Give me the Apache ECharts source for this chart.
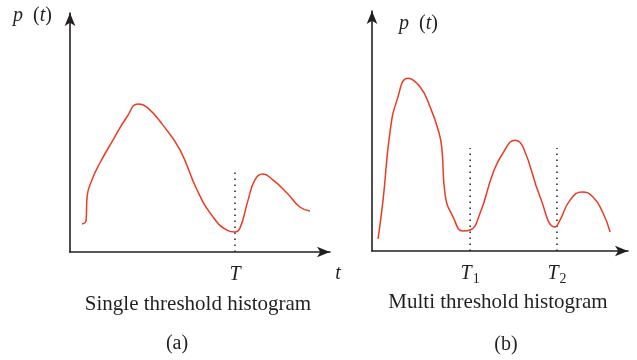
<!DOCTYPE html>
<html><head><meta charset="utf-8">
<script src="https://cdn.jsdelivr.net/npm/echarts@6/dist/echarts.min.js"></script>
<style>html,body{margin:0;padding:0;background:#fff}#c{width:637px;height:360px}</style>
</head><body><div id="c"></div>
<script>
// Panel (a): single threshold
const tA = [4.5, 6.0, 6.4, 8.2, 11.2, 16.1, 21.3, 25.5, 28.8, 34.8, 41.2, 47.6, 53.6, 58.8, 61.8, 63.7, 66.7, 69.3, 72.3, 76.0, 81.3, 86.1, 89.9];
const pA = [11.4, 12.6, 22.4, 29.3, 36.2, 45.5, 54.9, 60.2, 58.9, 51.6, 41.5, 25.2, 14.2, 8.9, 8.1, 9.8, 21.1, 29.3, 31.7, 29.3, 24.0, 18.3, 16.7];
const thresholdsA = [61.8];
const thresholdLabelsA = ['T'];
// Panel (b): multi threshold
const tB = [2.3, 4.2, 6.8, 9.5, 13.7, 18.3, 22.1, 25.5, 26.6, 27.8, 30.8, 34.6, 37.3, 41.1, 46.0, 49.8, 54.4, 57.4, 63.9, 69.6, 71.5, 75.3, 79.8, 84.0, 87.8, 90.5];
const pB = [4.9, 20.6, 47.8, 61.1, 70.0, 66.4, 58.3, 47.8, 40.9, 22.7, 13.8, 8.1, 8.5, 15.4, 31.6, 39.7, 44.9, 42.1, 21.9, 9.7, 12.6, 20.6, 23.9, 21.9, 15.4, 7.7];
const thresholdsB = [37.3, 70.3];
const thresholdLabelsB = ['T1', 'T2'];
const thresholdTopA = 33.3;
const thresholdTopB = 41.7;
const titles = ['Single threshold histogram', 'Multi threshold histogram'];
const panelTags = ['(a)', '(b)'];

const ink = '#231f20';
const red = '#ee3a24';
const serif = '"Liberation Serif", "DejaVu Serif", serif';

function zip(xs, ys) { return xs.map((x, i) => [x, ys[i]]); }
function axisLineCfg() {
  return { show: true, symbol: ['none', 'arrow'], symbolSize: [8, 13], lineStyle: { color: ink, width: 1.6 } };
}
function xAxisCfg(idx, max, vals, labels) {
  return {
    type: 'value', gridIndex: idx, min: 0, max: max,
    axisLine: axisLineCfg(), axisTick: { show: false }, splitLine: { show: false },
    axisLabel: {
      show: true, customValues: vals, margin: 12,
      formatter: v => {
        const l = labels[vals.indexOf(v)] || '';
        return l.length > 1 ? '{i|' + l[0] + '}{s|' + l.slice(1) + '}' : '{i|' + l + '}';
      },
      rich: {
        i: { fontFamily: serif, fontStyle: 'italic', fontSize: 20, color: ink, lineHeight: 22 },
        s: { fontFamily: serif, fontSize: 14, color: ink, lineHeight: 22, padding: [10, 0, 0, 1] }
      }
    }
  };
}
function yAxisCfg(idx, max) {
  return {
    type: 'value', gridIndex: idx, min: 0, max: max,
    axisLine: axisLineCfg(), axisTick: { show: false }, splitLine: { show: false }, axisLabel: { show: false }
  };
}
function thresholdSeries(idx, vals, top) {
  return vals.map(v => ({
    type: 'line', xAxisIndex: idx, yAxisIndex: idx, symbol: 'none', silent: true,
    data: [[v, 0], [v, top]],
    lineStyle: { color: ink, width: 1.5, type: [1.5, 4.5] }, z: 1
  }));
}
function curveSeries(idx, xs, ys) {
  return {
    type: 'line', xAxisIndex: idx, yAxisIndex: idx, symbol: 'none', silent: true,
    smooth: 0.5, data: zip(xs, ys),
    lineStyle: { color: red, width: 1.5 }, z: 3
  };
}
function ptLabel(x, y) {
  return {
    type: 'text', left: x, top: y,
    style: {
      text: '{i|p}  ({i|t})', fill: ink, font: '20px ' + serif,
      rich: { i: { fontFamily: serif, fontStyle: 'italic', fontSize: 20, fill: ink } }
    }
  };
}
function plainText(text, cx, cy, italic, size) {
  return {
    type: 'text', x: cx, y: cy,
    style: { text: text, fill: ink, font: (italic ? 'italic ' : '') + (size || 20) + 'px ' + serif, align: 'center', verticalAlign: 'middle' }
  };
}

const chart = echarts.init(document.getElementById('c'), null, { renderer: 'canvas' });
chart.setOption({
  backgroundColor: '#fff',
  animation: false,
  grid: [
    { left: 70, top: 13, width: 260, height: 239 },
    { left: 372, top: 11, width: 256, height: 240 }
  ],
  xAxis: [xAxisCfg(0, 97.4, thresholdsA, thresholdLabelsA), xAxisCfg(1, 97.3, thresholdsB, thresholdLabelsB)],
  yAxis: [yAxisCfg(0, 97.2), yAxisCfg(1, 97.2)],
  series: [
    ...thresholdSeries(0, thresholdsA, thresholdTopA),
    curveSeries(0, tA, pA),
    ...thresholdSeries(1, thresholdsB, thresholdTopB),
    curveSeries(1, tB, pB)
  ],
  graphic: [
    ptLabel(13, 6),
    ptLabel(399, 14),
    plainText('t', 338, 274, true),
    plainText(titles[0], 198, 304, false, 21),
    plainText(titles[1], 498, 302, false, 21),
    plainText(panelTags[0], 177, 344, false, 20),
    plainText(panelTags[1], 506, 345, false, 20)
  ]
});
</script></body></html>
